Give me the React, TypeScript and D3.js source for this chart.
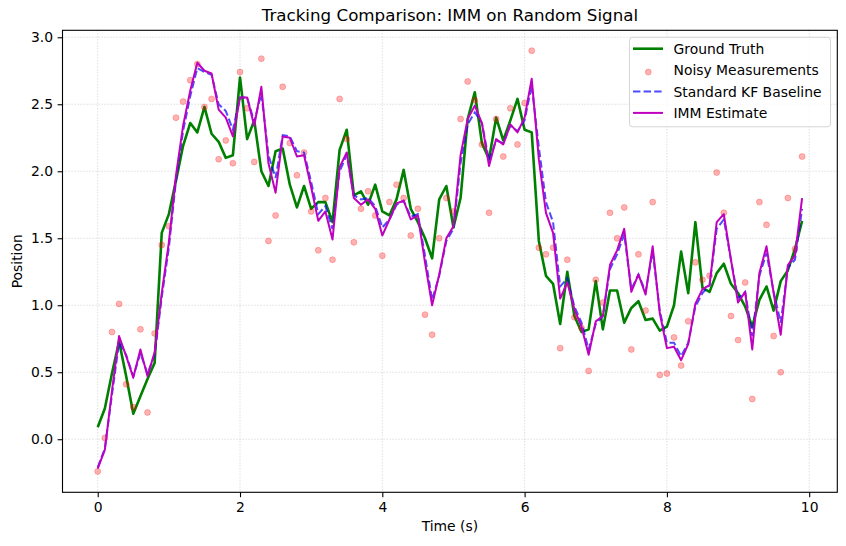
import React, { useEffect, useRef } from 'react';
import * as d3 from 'd3';

const time: number[] = [
  0.0, 0.1, 0.2, 0.3, 0.4, 0.5, 0.6, 0.7, 0.8, 0.9,
  1.0, 1.1, 1.2, 1.3, 1.4, 1.5, 1.6, 1.7, 1.8, 1.9,
  2.0, 2.1, 2.2, 2.3, 2.4, 2.5, 2.6, 2.7, 2.8, 2.9,
  3.0, 3.1, 3.2, 3.3, 3.4, 3.5, 3.6, 3.7, 3.8, 3.9,
  4.0, 4.1, 4.2, 4.3, 4.4, 4.5, 4.6, 4.7, 4.8, 4.9,
  5.0, 5.1, 5.2, 5.3, 5.4, 5.5, 5.6, 5.7, 5.8, 5.9,
  6.0, 6.1, 6.2, 6.3, 6.4, 6.5, 6.6, 6.7, 6.8, 6.9,
  7.0, 7.1, 7.2, 7.3, 7.4, 7.5, 7.6, 7.7, 7.8, 7.9,
  8.0, 8.1, 8.2, 8.3, 8.4, 8.5, 8.6, 8.7, 8.8, 8.9,
  9.0, 9.1, 9.2, 9.3, 9.4, 9.5, 9.6, 9.7, 9.8, 9.9,
];

const groundTruth: number[] = [
  0.09, 0.23, 0.49, 0.73, 0.47, 0.19, 0.32, 0.45, 0.57, 1.54,
  1.68, 1.93, 2.19, 2.36, 2.29, 2.48, 2.28, 2.22, 2.10, 2.12,
  2.70, 2.24, 2.38, 2.00, 1.89, 2.15, 2.17, 1.90, 1.73, 1.89,
  1.72, 1.77, 1.77, 1.62, 2.16, 2.31, 1.82, 1.85, 1.75, 1.90,
  1.70, 1.67, 1.79, 2.01, 1.72, 1.62, 1.50, 1.35, 1.79, 1.89,
  1.58, 1.80, 2.39, 2.59, 2.21, 2.09, 2.40, 2.23, 2.38, 2.54,
  2.31, 2.29, 1.48, 1.22, 1.16, 0.86, 1.25, 0.92, 0.80, 0.82,
  1.18, 0.82, 1.11, 1.11, 0.87, 0.98, 1.03, 0.89, 0.90, 0.81,
  0.84, 1.00, 1.40, 1.09, 1.62, 1.13, 1.10, 1.24, 1.31, 1.16,
  1.09, 0.99, 0.84, 1.04, 1.14, 0.96, 1.18, 1.26, 1.42, 1.63,
];

const measurements: number[] = [
  -0.24, 0.01, 0.80, 1.01, 0.41, 0.24, 0.82, 0.20, 0.79, 1.45,
  1.59, 2.40, 2.52, 2.68, 2.80, 2.48, 2.54, 2.09, 2.23, 2.06,
  2.74, 2.47, 2.07, 2.84, 1.48, 1.67, 2.63, 2.21, 1.97, 2.14,
  1.70, 1.41, 1.80, 1.34, 2.54, 2.24, 1.47, 1.72, 1.85, 1.67,
  1.37, 1.77, 1.90, 1.80, 1.52, 1.72, 0.93, 0.78, 1.50, 1.80,
  1.70, 2.39, 2.67, 2.53, 2.20, 1.69, 2.39, 2.11, 2.47, 2.20,
  2.51, 2.90, 1.43, 1.38, 1.43, 0.68, 1.34, 0.91, 0.83, 0.51,
  1.19, 1.02, 1.69, 1.50, 1.73, 0.67, 1.38, 0.96, 1.77, 0.48,
  0.49, 0.76, 0.55, 0.88, 1.32, 1.19, 1.22, 1.99, 1.69, 0.92,
  0.74, 1.17, 0.30, 1.77, 1.60, 0.77, 0.50, 1.80, 1.42, 2.11,
];

const kfBaseline: number[] = [
  -0.21, -0.07, 0.33, 0.72, 0.63, 0.47, 0.64, 0.49, 0.63, 1.06,
  1.43, 1.93, 2.30, 2.56, 2.77, 2.74, 2.72, 2.50, 2.45, 2.31,
  2.55, 2.55, 2.37, 2.58, 2.12, 1.95, 2.27, 2.26, 2.15, 2.14,
  1.92, 1.68, 1.74, 1.57, 2.00, 2.12, 1.82, 1.79, 1.80, 1.74,
  1.58, 1.64, 1.75, 1.78, 1.66, 1.68, 1.37, 1.04, 1.22, 1.48,
  1.57, 2.06, 2.35, 2.44, 2.36, 2.08, 2.23, 2.21, 2.34, 2.30,
  2.38, 2.64, 2.18, 1.77, 1.62, 1.14, 1.20, 0.99, 0.87, 0.67,
  0.86, 0.92, 1.27, 1.38, 1.53, 1.12, 1.23, 1.10, 1.40, 0.96,
  0.72, 0.72, 0.62, 0.72, 0.99, 1.09, 1.15, 1.57, 1.64, 1.34,
  1.05, 1.10, 0.77, 1.22, 1.39, 1.10, 0.87, 1.28, 1.34, 1.72,
];

const immEstimate: number[] = [
  -0.22, -0.08, 0.36, 0.77, 0.62, 0.46, 0.67, 0.47, 0.65, 1.09,
  1.47, 1.97, 2.34, 2.60, 2.81, 2.75, 2.73, 2.46, 2.40, 2.26,
  2.55, 2.55, 2.34, 2.63, 2.06, 1.84, 2.26, 2.25, 2.11, 2.12,
  1.88, 1.63, 1.70, 1.49, 2.03, 2.14, 1.80, 1.75, 1.79, 1.72,
  1.52, 1.64, 1.76, 1.78, 1.64, 1.67, 1.32, 1.00, 1.23, 1.50,
  1.59, 2.12, 2.39, 2.49, 2.36, 2.04, 2.24, 2.20, 2.35, 2.29,
  2.40, 2.69, 2.09, 1.69, 1.54, 1.05, 1.17, 0.97, 0.84, 0.63,
  0.88, 0.92, 1.30, 1.41, 1.57, 1.10, 1.23, 1.08, 1.44, 0.94,
  0.68, 0.69, 0.59, 0.71, 1.01, 1.12, 1.15, 1.62, 1.68, 1.34,
  1.02, 1.10, 0.67, 1.24, 1.44, 1.09, 0.78, 1.30, 1.37, 1.80,
];

const xTicks = [0, 2, 4, 6, 8, 10];
const yTicks = [0.0, 0.5, 1.0, 1.5, 2.0, 2.5, 3.0];

const legendLabels = ['Ground Truth', 'Noisy Measurements', 'Standard KF Baseline', 'IMM Estimate'];

const FONT = 'DejaVu Sans, sans-serif';

export default function App() {
  const ref = useRef<SVGSVGElement>(null);

  const width = 846;
  const height = 546;
  const margin = { left: 62.5, right: 846 - 837.3, top: 30.3, bottom: 546 - 492.3 };

  useEffect(() => {
    draw();
  // eslint-disable-next-line react-hooks/exhaustive-deps
  }, []);

  function draw() {
    const svg = d3.select(ref.current);
    svg.selectAll('*').remove();

    const x = d3.scaleLinear()
      .domain([-0.495, 10.395])
      .range([margin.left, width - margin.right]);

    const y = d3.scaleLinear()
      .domain([-0.396, 3.052])
      .range([height - margin.bottom, margin.top]);

    // grid
    const grid = svg.append('g').attr('class', 'grid');
    grid.selectAll('.gx')
      .data(xTicks)
      .enter()
      .append('line')
      .attr('x1', (d) => x(d))
      .attr('x2', (d) => x(d))
      .attr('y1', margin.top)
      .attr('y2', height - margin.bottom)
      .attr('stroke', '#c8c8c8')
      .attr('stroke-width', 0.8)
      .attr('stroke-dasharray', '1.1,1.9');
    grid.selectAll('.gy')
      .data(yTicks)
      .enter()
      .append('line')
      .attr('x1', margin.left)
      .attr('x2', width - margin.right)
      .attr('y1', (d) => y(d))
      .attr('y2', (d) => y(d))
      .attr('stroke', '#c8c8c8')
      .attr('stroke-width', 0.8)
      .attr('stroke-dasharray', '1.1,1.9');

    const line = (vals: number[]) => d3.line<number>()
      .x((d, i) => x(time[i]))
      .y((d) => y(d))(vals);

    const plot = svg.append('g').attr('class', 'plot');

    plot.append('path')
      .attr('d', line(groundTruth))
      .attr('fill', 'none')
      .attr('stroke', '#008000')
      .attr('stroke-width', 2.6)
      .attr('stroke-linejoin', 'round');

    plot.selectAll('.meas')
      .data(measurements)
      .enter()
      .append('circle')
      .attr('cx', (d, i) => x(time[i]))
      .attr('cy', (d) => y(d))
      .attr('r', 3)
      .attr('fill', 'rgba(255,0,0,0.3)')
      .attr('stroke', 'rgba(255,0,0,0.3)')
      .attr('stroke-width', 0.8);

    plot.append('path')
      .attr('d', line(kfBaseline))
      .attr('fill', 'none')
      .attr('stroke', 'rgba(0,0,255,0.7)')
      .attr('stroke-width', 2)
      .attr('stroke-dasharray', '7.4,3.2');

    plot.append('path')
      .attr('d', line(immEstimate))
      .attr('fill', 'none')
      .attr('stroke', '#bf00bf')
      .attr('stroke-width', 2)
      .attr('stroke-linejoin', 'round');

    // axes
    const xAxis = (g: any) => g
      .attr('transform', `translate(0, ${height - margin.bottom})`)
      .call(d3.axisBottom(x).tickValues(xTicks).tickSize(4.9).tickPadding(4.5).tickFormat(d3.format('d')))
      .call(() => g.select('.domain').remove());

    const yAxis = (g: any) => g
      .attr('transform', `translate(${margin.left}, 0)`)
      .call(d3.axisLeft(y).tickValues(yTicks).tickSize(4.9).tickPadding(4.5).tickFormat(d3.format('.1f')))
      .call(() => g.select('.domain').remove());

    svg.append('g').call(xAxis);
    svg.append('g').call(yAxis);

    svg.selectAll('.tick line')
      .attr('stroke', '#000')
      .attr('stroke-width', 1.1);
    svg.selectAll('.tick text')
      .attr('fill', '#000')
      .style('font-family', FONT)
      .style('font-size', '13.9px');

    // spines
    svg.append('rect')
      .attr('x', margin.left)
      .attr('y', margin.top)
      .attr('width', width - margin.left - margin.right)
      .attr('height', height - margin.top - margin.bottom)
      .attr('fill', 'none')
      .attr('stroke', '#000')
      .attr('stroke-width', 1.1);

    // titles
    svg.append('text')
      .attr('x', (margin.left + width - margin.right) / 2)
      .attr('y', 21)
      .attr('text-anchor', 'middle')
      .style('font-family', FONT)
      .style('font-size', '16.7px')
      .text('Tracking Comparison: IMM on Random Signal');

    svg.append('text')
      .attr('x', (margin.left + width - margin.right) / 2)
      .attr('y', 531)
      .attr('text-anchor', 'middle')
      .style('font-family', FONT)
      .style('font-size', '13.9px')
      .text('Time (s)');

    svg.append('text')
      .attr('transform', `translate(22, ${(margin.top + height - margin.bottom) / 2}) rotate(-90)`)
      .attr('text-anchor', 'middle')
      .style('font-family', FONT)
      .style('font-size', '13.9px')
      .text('Position');

    // legend
    const legend = svg.append('g').attr('class', 'legend');
    legend.append('rect')
      .attr('x', 629.5)
      .attr('y', 37.3)
      .attr('width', 201)
      .attr('height', 89.5)
      .attr('rx', 3)
      .attr('fill', 'rgba(255,255,255,0.8)')
      .attr('stroke', '#d5d5d5')
      .attr('stroke-width', 1);

    const rowY = (i: number) => 48.7 + i * 21.4;

    legend.selectAll('.lbl')
      .data(legendLabels)
      .enter()
      .append('text')
      .attr('x', 673.5)
      .attr('y', (d, i) => rowY(i) + 5)
      .style('font-family', FONT)
      .style('font-size', '13.9px')
      .text((d) => d);

    legend.append('line')
      .attr('x1', 633).attr('x2', 663)
      .attr('y1', rowY(0)).attr('y2', rowY(0))
      .attr('stroke', '#008000').attr('stroke-width', 2.6);
    legend.append('circle')
      .attr('cx', 648.3).attr('cy', rowY(1) + 2)
      .attr('r', 3)
      .attr('fill', 'rgba(255,0,0,0.3)')
      .attr('stroke', 'rgba(255,0,0,0.3)')
      .attr('stroke-width', 0.8);
    legend.append('line')
      .attr('x1', 633).attr('x2', 663)
      .attr('y1', rowY(2)).attr('y2', rowY(2))
      .attr('stroke', 'rgba(0,0,255,0.7)').attr('stroke-width', 2)
      .attr('stroke-dasharray', '7.4,3.2');
    legend.append('line')
      .attr('x1', 633).attr('x2', 663)
      .attr('y1', rowY(3)).attr('y2', rowY(3))
      .attr('stroke', '#bf00bf').attr('stroke-width', 2);
  }

  return (
    <svg
      ref={ref}
      width={width}
      height={height}
      style={{ position: 'absolute', left: 0, top: 0, background: '#fff' }}
    />
  );
}
